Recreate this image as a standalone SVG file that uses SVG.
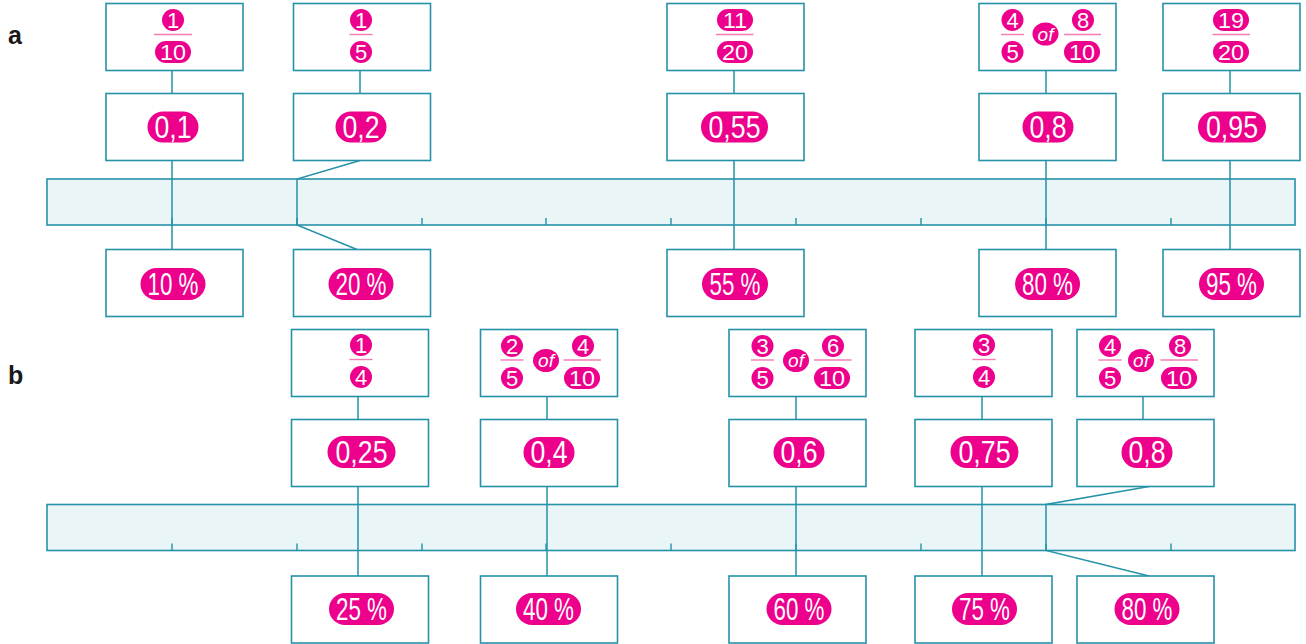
<svg xmlns="http://www.w3.org/2000/svg" width="1306" height="644" viewBox="0 0 1306 644">
<style>
.box{fill:#fff;stroke:#2592a8;stroke-width:1.6}
.bar{fill:#eaf5f8;stroke:#2592a8;stroke-width:1.6}
.tick{stroke:#2592a8;stroke-width:1.4}
.conn{fill:none;stroke:#2592a8;stroke-width:1.5}
.pk{fill:#ec008c}
.fl{stroke:#f57ab5;stroke-width:1.4}
.big{fill:#fff;font-family:"Liberation Sans","Arial",sans-serif;font-size:31px;text-anchor:middle}
.sm{fill:#fff;font-family:"Liberation Sans","Arial",sans-serif;font-size:22px;text-anchor:middle}
.of{fill:#fff;font-family:"Liberation Sans","DejaVu Sans",sans-serif;font-size:19px;font-style:italic;text-anchor:middle}
.lab{fill:#1a1a1a;font-family:"Liberation Sans","DejaVu Sans",sans-serif;font-size:25px;font-weight:bold}
</style>

<text class="lab" x="8" y="44">a</text>
<text class="lab" x="8" y="384">b</text>

<!-- number lines -->
<g id="bar-a">
<rect class="bar" x="47" y="179" width="1248" height="46"/>
<path class="tick" d="M172 218V225M297 218V225M422 218V225M546 218V225M671 218V225M796 218V225M921 218V225M1046 218V225M1171 218V225"/>
</g>
<g id="bar-b">
<rect class="bar" x="47" y="504.5" width="1248" height="46"/>
<path class="tick" d="M172 543.5V550.5M297 543.5V550.5M422 543.5V550.5M546 543.5V550.5M671 543.5V550.5M796 543.5V550.5M921 543.5V550.5M1046 543.5V550.5M1171 543.5V550.5"/>
</g>

<!-- connectors -->
<g id="connectors">
<path class="conn" d="M172 70.5V93.5M172 160.5V249.5"/>
<path class="conn" d="M360 70.5V93.5M360 160.5L297 179V225L357 249.5"/>
<path class="conn" d="M734 70.5V93.5M734 160.5V249.5"/>
<path class="conn" d="M1046 70.5V93.5M1046 160.5V249.5"/>
<path class="conn" d="M1230 70.5V93.5M1230 160.5V249.5"/>
<path class="conn" d="M358 396.5V419.5M358 486.5V576"/>
<path class="conn" d="M547 396.5V419.5M547 486.5V576"/>
<path class="conn" d="M796 396.5V419.5M796 486.5V576"/>
<path class="conn" d="M982 396.5V419.5M982 486.5V576"/>
<path class="conn" d="M1143 396.5V419.5M1149 486.5L1046 504.5V550.5L1149 576"/>
</g>

<!-- ===== a ===== -->
<g id="a1">
<rect class="box" x="106" y="3.5" width="137" height="67"/>
<circle class="pk" cx="173" cy="20" r="11"/><text class="sm" x="173" y="28">1</text>
<line class="fl" x1="154" y1="34.5" x2="192" y2="34.5"/>
<rect class="pk" x="155" y="41" width="36" height="22" rx="11"/><text class="sm" x="173" y="60" textLength="26" lengthAdjust="spacingAndGlyphs">10</text>
<rect class="box" x="106" y="93.5" width="137" height="67"/>
<rect class="pk" x="147.5" y="111.5" width="51" height="31" rx="15.5"/><text class="big" x="173" y="138" textLength="37" lengthAdjust="spacingAndGlyphs">0,1</text>
<rect class="box" x="106" y="249.5" width="137" height="67"/>
<rect class="pk" x="140.5" y="268" width="65" height="32" rx="16"/><text class="big" x="173" y="295" textLength="51" lengthAdjust="spacingAndGlyphs">10 %</text>
</g>

<g id="a2">
<rect class="box" x="293.5" y="3.5" width="137" height="67"/>
<circle class="pk" cx="361" cy="20" r="11"/><text class="sm" x="361" y="28">1</text>
<line class="fl" x1="349.5" y1="34.5" x2="372.5" y2="34.5"/>
<circle class="pk" cx="361" cy="52" r="11"/><text class="sm" x="361" y="60">5</text>
<rect class="box" x="293.5" y="93.5" width="137" height="67"/>
<rect class="pk" x="335.5" y="111.5" width="51" height="31" rx="15.5"/><text class="big" x="361" y="138" textLength="37" lengthAdjust="spacingAndGlyphs">0,2</text>
<rect class="box" x="293.5" y="249.5" width="137" height="67"/>
<rect class="pk" x="328.5" y="268" width="65" height="32" rx="16"/><text class="big" x="361" y="295" textLength="51" lengthAdjust="spacingAndGlyphs">20 %</text>
</g>

<g id="a3">
<rect class="box" x="667" y="3.5" width="137" height="67"/>
<rect class="pk" x="717" y="9" width="36" height="22" rx="11"/><text class="sm" x="735" y="28" textLength="24" lengthAdjust="spacingAndGlyphs">11</text>
<line class="fl" x1="716" y1="34.5" x2="753.5" y2="34.5"/>
<rect class="pk" x="717" y="41" width="36" height="22" rx="11"/><text class="sm" x="735" y="60" textLength="26" lengthAdjust="spacingAndGlyphs">20</text>
<rect class="box" x="667" y="93.5" width="137" height="67"/>
<rect class="pk" x="701" y="111.5" width="67" height="31" rx="15.5"/><text class="big" x="734.5" y="138" textLength="52" lengthAdjust="spacingAndGlyphs">0,55</text>
<rect class="box" x="667" y="249.5" width="137" height="67"/>
<rect class="pk" x="702" y="268" width="66" height="32" rx="16"/><text class="big" x="735" y="295" textLength="51" lengthAdjust="spacingAndGlyphs">55 %</text>
</g>

<g id="a4">
<rect class="box" x="979" y="3.5" width="137" height="67"/>
<circle class="pk" cx="1012.5" cy="20" r="11"/><text class="sm" x="1012.5" y="28">4</text>
<line class="fl" x1="1001" y1="34.5" x2="1024" y2="34.5"/>
<circle class="pk" cx="1012.5" cy="52" r="11"/><text class="sm" x="1012.5" y="60">5</text>
<ellipse class="pk" cx="1045.5" cy="34" rx="13" ry="11.5"/><text class="of" x="1045.5" y="40.5">of</text>
<circle class="pk" cx="1083" cy="20" r="11"/><text class="sm" x="1083" y="28">8</text>
<line class="fl" x1="1064" y1="34.5" x2="1101" y2="34.5"/>
<rect class="pk" x="1064" y="41" width="36" height="22" rx="11"/><text class="sm" x="1082" y="60" textLength="26" lengthAdjust="spacingAndGlyphs">10</text>
<rect class="box" x="979" y="93.5" width="137" height="67"/>
<rect class="pk" x="1022.5" y="111.5" width="51" height="31" rx="15.5"/><text class="big" x="1048" y="138" textLength="37" lengthAdjust="spacingAndGlyphs">0,8</text>
<rect class="box" x="979" y="249.5" width="137" height="67"/>
<rect class="pk" x="1015" y="268" width="65" height="32" rx="16"/><text class="big" x="1047.5" y="295" textLength="51" lengthAdjust="spacingAndGlyphs">80 %</text>
</g>

<g id="a5">
<rect class="box" x="1163" y="3.5" width="137" height="67"/>
<rect class="pk" x="1213" y="9" width="36" height="22" rx="11"/><text class="sm" x="1231" y="28" textLength="26" lengthAdjust="spacingAndGlyphs">19</text>
<line class="fl" x1="1212.5" y1="34.5" x2="1250" y2="34.5"/>
<rect class="pk" x="1213" y="41" width="36" height="22" rx="11"/><text class="sm" x="1231" y="60" textLength="26" lengthAdjust="spacingAndGlyphs">20</text>
<rect class="box" x="1163" y="93.5" width="137" height="67"/>
<rect class="pk" x="1198" y="111.5" width="68" height="31" rx="15.5"/><text class="big" x="1232" y="138" textLength="52" lengthAdjust="spacingAndGlyphs">0,95</text>
<rect class="box" x="1163" y="249.5" width="137" height="67"/>
<rect class="pk" x="1199" y="268" width="65" height="32" rx="16"/><text class="big" x="1231.5" y="295" textLength="51" lengthAdjust="spacingAndGlyphs">95 %</text>
</g>

<!-- ===== b ===== -->
<g id="b1">
<rect class="box" x="291.5" y="329.5" width="137" height="67"/>
<circle class="pk" cx="361" cy="345" r="11"/><text class="sm" x="361" y="353">1</text>
<line class="fl" x1="349.5" y1="359.5" x2="372.5" y2="359.5"/>
<circle class="pk" cx="361" cy="377" r="11"/><text class="sm" x="361" y="385">4</text>
<rect class="box" x="291.5" y="419.5" width="137" height="67"/>
<rect class="pk" x="327.5" y="436" width="68" height="32" rx="16"/><text class="big" x="361.5" y="463" textLength="52" lengthAdjust="spacingAndGlyphs">0,25</text>
<rect class="box" x="291.5" y="576" width="137" height="67"/>
<rect class="pk" x="329" y="593" width="65" height="32" rx="16"/><text class="big" x="361.5" y="620" textLength="51" lengthAdjust="spacingAndGlyphs">25 %</text>
</g>

<g id="b2">
<rect class="box" x="480.5" y="329.5" width="137" height="67"/>
<circle class="pk" cx="512" cy="346" r="11"/><text class="sm" x="512" y="354">2</text>
<line class="fl" x1="500.5" y1="360" x2="523.5" y2="360"/>
<circle class="pk" cx="512" cy="378" r="11"/><text class="sm" x="512" y="386">5</text>
<ellipse class="pk" cx="546" cy="360.5" rx="13" ry="11.5"/><text class="of" x="546" y="367">of</text>
<circle class="pk" cx="583" cy="346" r="11"/><text class="sm" x="583" y="354">4</text>
<line class="fl" x1="563.5" y1="360" x2="601" y2="360"/>
<rect class="pk" x="564" y="367" width="36" height="22" rx="11"/><text class="sm" x="582" y="386" textLength="26" lengthAdjust="spacingAndGlyphs">10</text>
<rect class="box" x="480.5" y="419.5" width="137" height="67"/>
<rect class="pk" x="523.5" y="437" width="51" height="31" rx="15.5"/><text class="big" x="549" y="463" textLength="37" lengthAdjust="spacingAndGlyphs">0,4</text>
<rect class="box" x="480.5" y="576" width="137" height="67"/>
<rect class="pk" x="516" y="593" width="65" height="32" rx="16"/><text class="big" x="548.5" y="620" textLength="51" lengthAdjust="spacingAndGlyphs">40 %</text>
</g>

<g id="b3">
<rect class="box" x="729" y="329.5" width="137" height="67"/>
<circle class="pk" cx="762.5" cy="346" r="11"/><text class="sm" x="762.5" y="354">3</text>
<line class="fl" x1="751" y1="360" x2="774" y2="360"/>
<circle class="pk" cx="762.5" cy="378" r="11"/><text class="sm" x="762.5" y="386">5</text>
<ellipse class="pk" cx="796" cy="360.5" rx="13" ry="11.5"/><text class="of" x="796" y="367">of</text>
<circle class="pk" cx="833" cy="346" r="11"/><text class="sm" x="833" y="354">6</text>
<line class="fl" x1="814" y1="360" x2="851.5" y2="360"/>
<rect class="pk" x="814" y="367" width="36" height="22" rx="11"/><text class="sm" x="832" y="386" textLength="26" lengthAdjust="spacingAndGlyphs">10</text>
<rect class="box" x="729" y="419.5" width="137" height="67"/>
<rect class="pk" x="773.5" y="437" width="51" height="31" rx="15.5"/><text class="big" x="799" y="463" textLength="37" lengthAdjust="spacingAndGlyphs">0,6</text>
<rect class="box" x="729" y="576" width="137" height="67"/>
<rect class="pk" x="766.5" y="593" width="65" height="32" rx="16"/><text class="big" x="799" y="620" textLength="51" lengthAdjust="spacingAndGlyphs">60 %</text>
</g>

<g id="b4">
<rect class="box" x="915" y="329.5" width="137" height="67"/>
<circle class="pk" cx="984" cy="345" r="11"/><text class="sm" x="984" y="353">3</text>
<line class="fl" x1="972.5" y1="359.5" x2="995.5" y2="359.5"/>
<circle class="pk" cx="984" cy="377" r="11"/><text class="sm" x="984" y="385">4</text>
<rect class="box" x="915" y="419.5" width="137" height="67"/>
<rect class="pk" x="950.5" y="436" width="68" height="32" rx="16"/><text class="big" x="984.5" y="463" textLength="52" lengthAdjust="spacingAndGlyphs">0,75</text>
<rect class="box" x="915" y="576" width="137" height="67"/>
<rect class="pk" x="952" y="593" width="65" height="32" rx="16"/><text class="big" x="984.5" y="620" textLength="51" lengthAdjust="spacingAndGlyphs">75 %</text>
</g>

<g id="b5">
<rect class="box" x="1077" y="329.5" width="137" height="67"/>
<circle class="pk" cx="1110" cy="346" r="11"/><text class="sm" x="1110" y="354">4</text>
<line class="fl" x1="1098.5" y1="360" x2="1121.5" y2="360"/>
<circle class="pk" cx="1110" cy="378" r="11"/><text class="sm" x="1110" y="386">5</text>
<ellipse class="pk" cx="1141" cy="360.5" rx="13" ry="11.5"/><text class="of" x="1141" y="367">of</text>
<circle class="pk" cx="1180" cy="346" r="11"/><text class="sm" x="1180" y="354">8</text>
<line class="fl" x1="1160.5" y1="360" x2="1198" y2="360"/>
<rect class="pk" x="1161" y="367" width="36" height="22" rx="11"/><text class="sm" x="1179" y="386" textLength="26" lengthAdjust="spacingAndGlyphs">10</text>
<rect class="box" x="1077" y="419.5" width="137" height="67"/>
<rect class="pk" x="1121.5" y="437" width="51" height="31" rx="15.5"/><text class="big" x="1147" y="463" textLength="37" lengthAdjust="spacingAndGlyphs">0,8</text>
<rect class="box" x="1077" y="576" width="137" height="67"/>
<rect class="pk" x="1114.5" y="593" width="65" height="32" rx="16"/><text class="big" x="1147" y="620" textLength="51" lengthAdjust="spacingAndGlyphs">80 %</text>
</g>
</svg>
